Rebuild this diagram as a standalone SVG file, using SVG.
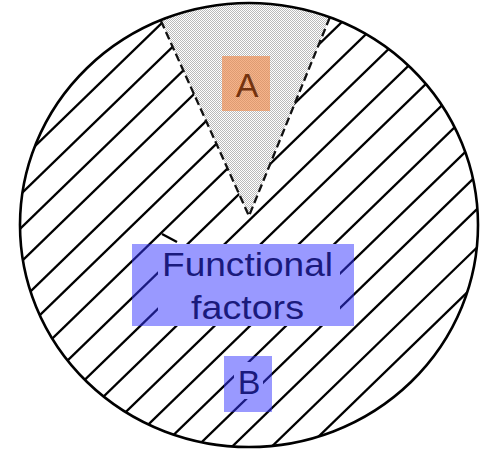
<svg xmlns="http://www.w3.org/2000/svg" width="481" height="453" viewBox="0 0 481 453">
  <style>
    .hatch { stroke: #000; stroke-width: 2.3; fill: none; }
    .outline { stroke: #000; stroke-width: 2.6; fill: none; }
    .dash { stroke: #111; stroke-width: 2.3; stroke-dasharray: 8 4; fill: none; }
    .lbl { font-family: "Liberation Sans", Arial, sans-serif; font-size: 34px; }
  </style>
  <defs>
    <clipPath id="clipE">
      <ellipse cx="249" cy="225" rx="229" ry="222"/>
    </clipPath>
    <pattern id="stipple" patternUnits="userSpaceOnUse" width="2" height="2">
      <rect x="0" y="0" width="2" height="2" fill="#ffffff"/>
      <rect x="0" y="0" width="1" height="1" fill="#bababa"/>
      <rect x="1" y="1" width="1" height="1" fill="#bababa"/>
    </pattern>
  </defs>

  <rect x="0" y="0" width="481" height="453" fill="#ffffff"/>

  <g id="hatching" clip-path="url(#clipE)">
    <line class="hatch" x1="0" y1="180" x2="481" y2="-286.6"/>
    <line class="hatch" x1="0" y1="214.3" x2="481" y2="-252.3"/>
    <line class="hatch" x1="0" y1="248.3" x2="481" y2="-218.3"/>
    <line class="hatch" x1="0" y1="282.3" x2="481" y2="-184.3"/>
    <line class="hatch" x1="0" y1="321" x2="481" y2="-145.6"/>
    <line class="hatch" x1="0" y1="353.7" x2="481" y2="-112.9"/>
    <line class="hatch" x1="0" y1="389.2" x2="481" y2="-77.4"/>
    <line class="hatch" x1="0" y1="426" x2="481" y2="-40.6"/>
    <line class="hatch" x1="0" y1="462" x2="481" y2="-4.6"/>
    <line class="hatch" x1="0" y1="497" x2="481" y2="30.4"/>
    <line class="hatch" x1="0" y1="534" x2="481" y2="67.4"/>
    <line class="hatch" x1="0" y1="568.4" x2="481" y2="101.8"/>
    <line class="hatch" x1="0" y1="603.3" x2="481" y2="136.7"/>
    <line class="hatch" x1="0" y1="637.8" x2="481" y2="171.2"/>
    <line class="hatch" x1="0" y1="671.8" x2="481" y2="205.2"/>
    <line class="hatch" x1="0" y1="710.2" x2="481" y2="243.6"/>
    <line class="hatch" x1="0" y1="745.6" x2="481" y2="279"/>
    <!-- blank areas around the labels -->
    <rect x="158" y="244" width="182" height="82" fill="#ffffff"/>
    <rect x="234" y="362" width="29" height="37" fill="#ffffff"/>
    <path class="hatch" d="M162,234 L177,242"/>
  </g>

  <g id="wedge-A">
    <path d="M161,21 L249,216 L330,17 A229,222 0 0 0 161,21 Z" fill="url(#stipple)"/>
    <path class="dash" d="M161,21 L249,216 L330,17"/>
  </g>

  <g id="circle">
    <ellipse class="outline" cx="249" cy="225" rx="229" ry="222"/>
  </g>

  <g id="label-A">
    <rect x="222" y="56" width="48" height="55" fill="#f08a4b" fill-opacity="0.65"/>
    <text class="lbl" x="247" y="96.5" text-anchor="middle" fill="#74330f">A</text>
  </g>

  <g id="label-functional">
    <rect x="132" y="244" width="222" height="82" fill="#3333ff" fill-opacity="0.5"/>
    <text class="lbl" x="162" y="276" textLength="171" lengthAdjust="spacingAndGlyphs" fill="#1a1a7c">Functional</text>
    <text class="lbl" x="191" y="319" textLength="113" lengthAdjust="spacingAndGlyphs" fill="#1a1a7c">factors</text>
  </g>

  <g id="label-B">
    <rect x="224" y="356" width="48" height="56" fill="#3333ff" fill-opacity="0.5"/>
    <text class="lbl" x="249" y="394" text-anchor="middle" fill="#1a1a7c">B</text>
  </g>
</svg>
